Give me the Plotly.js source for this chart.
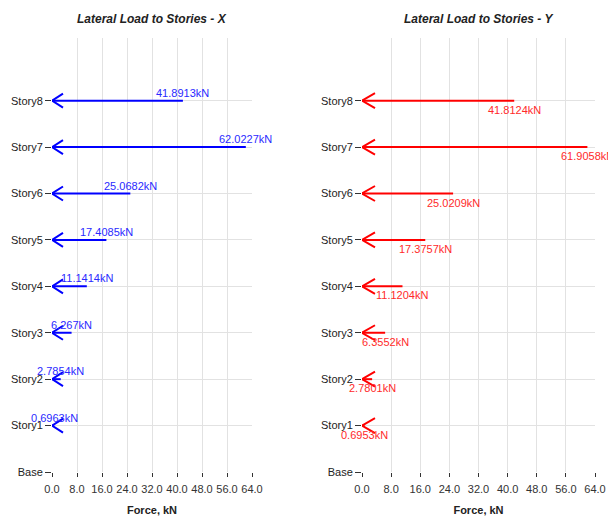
<!DOCTYPE html>
<html>
<head>
<meta charset="utf-8">
<script src="https://cdn.plot.ly/plotly-3.0.1.min.js"></script>
<style>html,body{margin:0;padding:0;background:#fff;}#chart{width:608px;height:516px;}</style>
</head>
<body>
<div id="chart"></div>
<script>
// ---- data ----
const storyLabels = ['Base','Story1','Story2','Story3','Story4','Story5','Story6','Story7','Story8'];
const storyLevels = [0,1,2,3,4,5,6,7,8];
const loadedStories = [1,2,3,4,5,6,7,8];
const forceX = [0.6963, 2.7854, 6.267, 11.1414, 17.4085, 25.0682, 62.0227, 41.8913];
const forceY = [0.6953, 2.7801, 6.3552, 11.1204, 17.3757, 25.0209, 61.9058, 41.8124];
const xTickVals = [0, 8, 16, 24, 32, 40, 48, 56, 64];

// ---- layout geometry ----
const W = 608, H = 516;
const mT = 38, mB = 44;
const dom1 = [52/W, 252/W];
const dom2 = [362/W, 595/W];
const xRange = [0, 64];
const yRange = [0, 9.35];
const plotH = H - mT - mB;
const pxPerY = plotH / (yRange[1]-yRange[0]);
const pxPerX1 = (dom1[1]-dom1[0])*W / (xRange[1]-xRange[0]);
const pxPerX2 = (dom2[1]-dom2[0])*W / (xRange[1]-xRange[0]);

function arrowTrace(vals, color, xa, ya, pxPerX, headW, headH) {
  const xs = [], ys = [];
  const dx = headW / pxPerX, dy = headH / pxPerY;
  vals.forEach((v, i) => {
    const s = loadedStories[i];
    xs.push(v, 0, null, dx, 0, dx, null);
    ys.push(s, s, null, s + dy, s, s - dy, null);
  });
  return {type:'scatter', mode:'lines', x: xs, y: ys, xaxis: xa, yaxis: ya,
    line:{color: color, width: 2}, hoverinfo:'skip', showlegend:false, cliponaxis:false};
}

const traces = [
  arrowTrace(forceX, '#0000ff', 'x', 'y', pxPerX1, 11, 7),
  arrowTrace(forceY, '#ff0000', 'x2', 'y2', pxPerX2, 13, 7.5)
];

const annotations = [];
forceX.forEach((v, i) => {
  annotations.push({xref:'x', yref:'y', x: v, y: loadedStories[i], text: v + 'kN',
    showarrow:false, xanchor:'center', yanchor:'bottom', yshift: 0,
    font:{family:'Liberation Sans, Arial', size:11, color:'#2a2aff'}});
});
forceY.forEach((v, i) => {
  annotations.push({xref:'x2', yref:'y2', x: v, y: loadedStories[i], text: v + 'kN',
    showarrow:false, xanchor:'center', yanchor:'top', yshift: -1,
    font:{family:'Liberation Sans, Arial', size:11, color:'#ff2a2a'}});
});
// subplot titles
[['Lateral Load to Stories - X', (dom1[0]+dom1[1])/2], ['Lateral Load to Stories - Y', (dom2[0]+dom2[1])/2]].forEach(t => {
  annotations.push({xref:'paper', yref:'paper', x: t[1], y: 1, yanchor:'bottom', xanchor:'center', yshift: 10,
    text: '<b><i>' + t[0] + '</i></b>', showarrow:false,
    font:{family:'Liberation Sans, Arial', size:12, color:'#222'}});
});

function xAxis(dom, anchor) {
  return {domain: dom, anchor: anchor, range: xRange, tickmode:'array', tickvals: xTickVals,
    tickformat:'.1f', showgrid:true, gridcolor:'#e2e2e2', gridwidth:1, zeroline:false, showline:false,
    ticks:'outside', ticklen:4, tickcolor:'#333', tickwidth:1, automargin:false, ticklabelstandoff: 3,
    tickfont:{family:'Liberation Sans, Arial', size:11, color:'#333'},
    title:{text:'<b>Force, kN</b>', standoff: 14, font:{family:'Liberation Sans, Arial', size:11, color:'#222'}}};
}
function yAxis(anchor) {
  return {anchor: anchor, domain:[0,1], range: yRange, tickmode:'array', tickvals: storyLevels, ticktext: storyLabels,
    showgrid:true, gridcolor:'#e2e2e2', gridwidth:1, zeroline:false, showline:false,
    ticks:'outside', ticklen:6, tickcolor:'#333', tickwidth:1, automargin:false,
    tickfont:{family:'Liberation Sans, Arial', size:11, color:'#222'}};
}

const layout = {
  width: W, height: H,
  margin:{l:0, r:0, t:mT, b:mB},
  paper_bgcolor:'#fff', plot_bgcolor:'#fff',
  showlegend:false,
  xaxis: xAxis(dom1, 'y'),
  yaxis: yAxis('x'),
  xaxis2: xAxis(dom2, 'y2'),
  yaxis2: yAxis('x2'),
  annotations: annotations
};

Plotly.newPlot('chart', traces, layout, {displayModeBar:false, staticPlot:true});
</script>
</body>
</html>
